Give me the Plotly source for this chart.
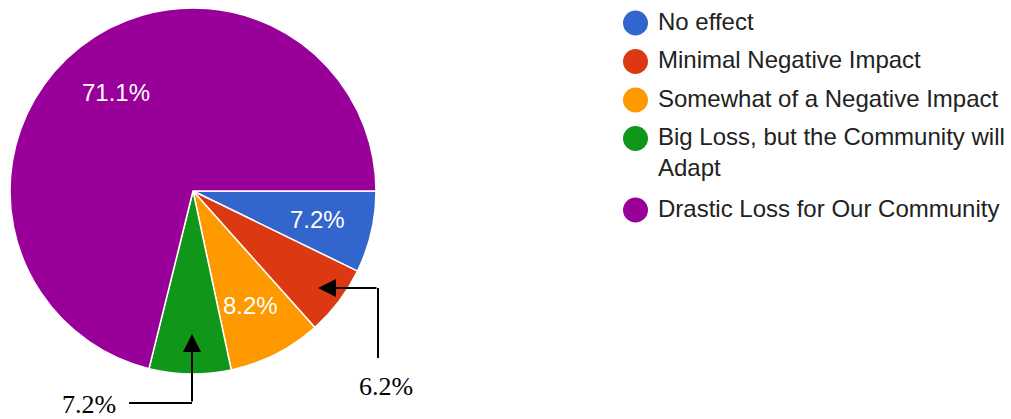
import math
import plotly.graph_objects as go

# ---- data ----
categories = ["No effect", "Minimal Negative Impact", "Somewhat of a Negative Impact",
              "Big Loss, but the Community will Adapt", "Drastic Loss for Our Community"]
legend_labels = ["No effect", "Minimal Negative Impact", "Somewhat of a Negative Impact",
                 "Big Loss, but the Community will<br>Adapt", "Drastic Loss for Our Community"]
counts = [7, 6, 8, 7, 69]
colors = ["#3366cc", "#dc3912", "#ff9900", "#109618", "#990099"]
show_inside = [True, False, True, False, True]   # slices labelled inside the pie
callout_slices = [1, 3]                            # slices labelled with arrows

W, H = 1011, 419
cx, cy, R = 193, 191, 183  # pie centre/radius in pixels


def px(x):
    return x / W


def py(y):
    return 1 - y / H


fig = go.Figure()
fig.add_trace(go.Pie(
    labels=categories, values=counts, sort=False, direction="clockwise", rotation=90,
    marker=dict(colors=colors, line=dict(color="white", width=1.5)),
    textinfo="none", hoverinfo="label+percent", showlegend=False,
    domain=dict(x=[px(cx - R), px(cx + R)], y=[py(cy + R), py(cy - R)]),
))

total = sum(counts)
pct = [c / total * 100 for c in counts]
annotations = []
shapes = []

# inside labels at the slice bisector
start = 0.0
for i, p in enumerate(pct):
    mid = start + p / 2
    start += p
    if not show_inside[i]:
        continue
    ang = math.radians(mid * 3.6)  # clockwise from 3 o'clock
    f = 0.70 if p < 50 else 0.68
    tx = cx + f * R * math.cos(ang)
    ty = cy + f * R * math.sin(ang)
    annotations.append(dict(x=px(tx), y=py(ty), xref="paper", yref="paper",
                            text=f"{p:.1f}%", showarrow=False,
                            font=dict(family="Arial, Liberation Sans", size=24, color="white"),
                            xanchor="center", yanchor="middle"))

serif = dict(family="Times New Roman, Liberation Serif", size=26, color="black")

# callout for "Minimal Negative Impact"
annotations.append(dict(x=px(318), y=py(288), xref="paper", yref="paper", text="",
                        showarrow=True, ax=378 - 318, ay=0, arrowhead=2, arrowsize=1.8,
                        arrowwidth=2, arrowcolor="black"))
shapes.append(dict(type="line", xref="paper", yref="paper", x0=px(378), x1=px(378),
                   y0=py(288), y1=py(358), line=dict(color="black", width=2)))
annotations.append(dict(x=px(386), y=py(386), xref="paper", yref="paper",
                        text=f"{pct[callout_slices[0]]:.1f}%", showarrow=False, font=serif,
                        xanchor="center", yanchor="middle"))

# callout for "Big Loss, but the Community will Adapt"
annotations.append(dict(x=px(192), y=py(334), xref="paper", yref="paper", text="",
                        showarrow=True, ax=0, ay=403 - 334, arrowhead=2, arrowsize=1.8,
                        arrowwidth=2, arrowcolor="black"))
shapes.append(dict(type="line", xref="paper", yref="paper", x0=px(129), x1=px(192),
                   y0=py(403), y1=py(403), line=dict(color="black", width=2)))
annotations.append(dict(x=px(89), y=py(404), xref="paper", yref="paper",
                        text=f"{pct[callout_slices[1]]:.1f}%", showarrow=False, font=serif,
                        xanchor="center", yanchor="middle"))

# custom legend
leg_font = dict(family="Arial, Liberation Sans", size=24, color="#222222")
row_y = 23
for i, lab in enumerate(legend_labels):
    d = 12.5
    shapes.append(dict(type="circle", xref="paper", yref="paper",
                       x0=px(635.5 - d), x1=px(635.5 + d), y0=py(row_y + d), y1=py(row_y - d),
                       fillcolor=colors[i], line=dict(width=0)))
    nlines = lab.count("<br>") + 1
    annotations.append(dict(x=px(657), y=py(row_y - 16.5), xref="paper", yref="paper",
                            text=lab, showarrow=False, font=leg_font, align="left",
                            xanchor="left", yanchor="top", borderpad=0))
    row_y += 38.5 + (nlines - 1) * 33

fig.update_layout(width=W, height=H, margin=dict(l=0, r=0, t=0, b=0),
                  paper_bgcolor="white", plot_bgcolor="white",
                  annotations=annotations, shapes=shapes, showlegend=False)
fig.write_html("out.html", config={"displayModeBar": False},
               post_script="document.body.style.margin='0';document.body.style.overflow='hidden';")
